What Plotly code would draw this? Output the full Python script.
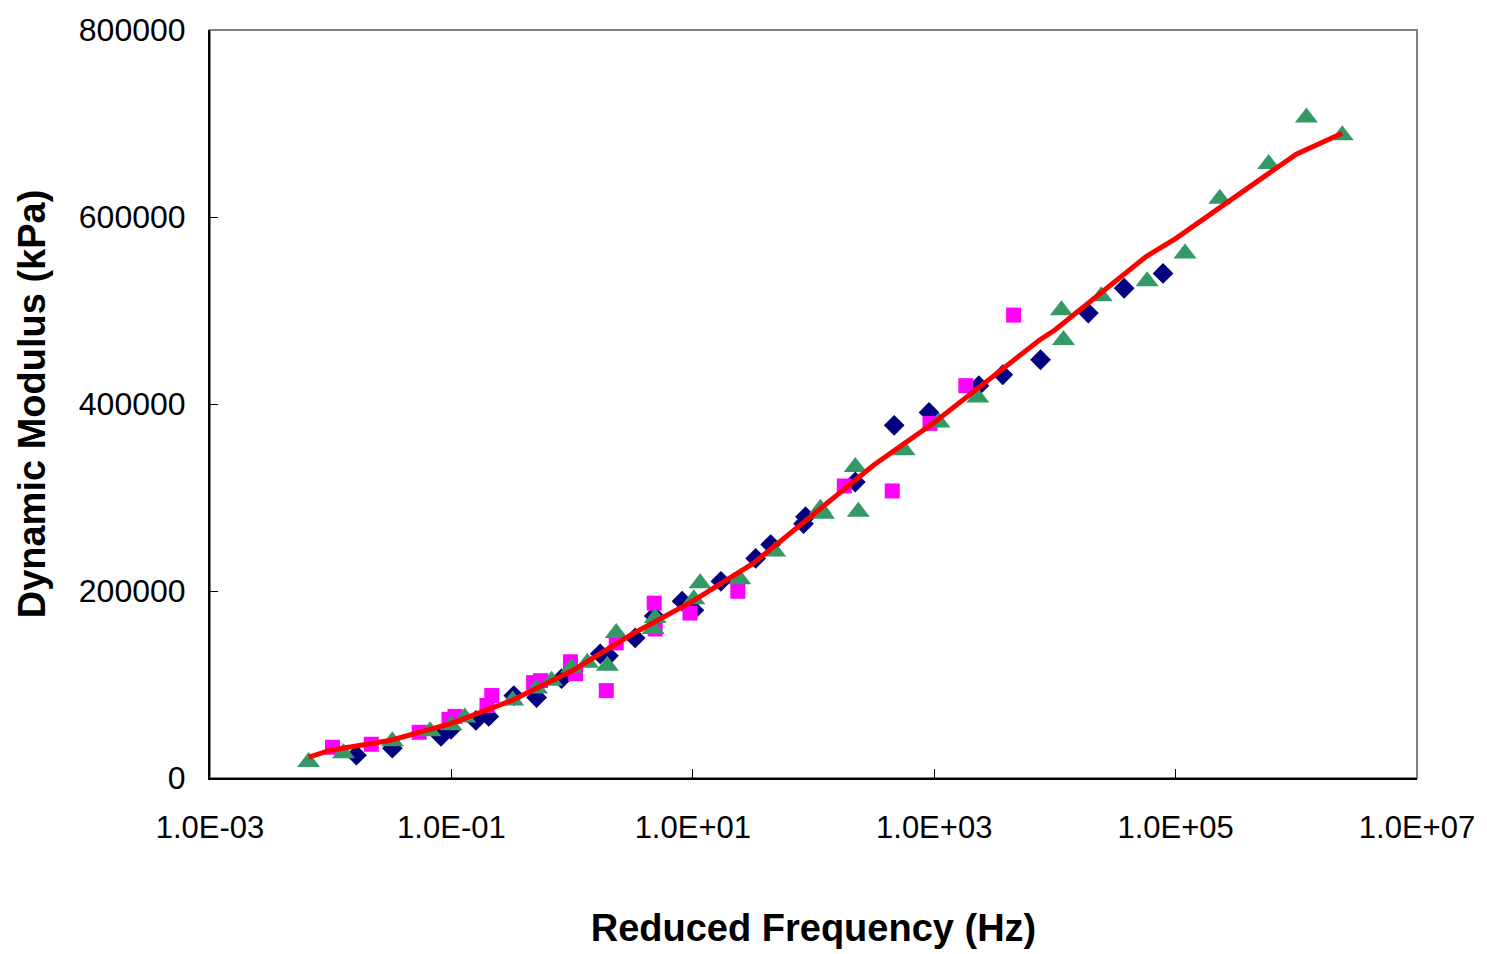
import plotly.graph_objects as go

# Reduced frequency (Hz) and dynamic modulus (kPa)
diamond_f = [0.01633, 0.0324, 0.0820, 0.0993, 0.1596, 0.204, 0.329, 0.508, 0.818,
             1.71, 2.0, 3.33, 4.79, 8.15, 10.2, 17.1, 33.2, 44.2, 85.9, 82.7,
             222, 466, 906, 2344, 3698, 7603, 18920, 37500, 78700]
diamond_e = [24400, 31900, 44600, 52100, 61600, 65900, 88200, 86100, 106200,
             132800, 130700, 149800, 173200, 189100, 179500, 210400, 234800, 249700, 279400, 272000,
             316600, 377200, 391000, 419600, 431300, 447300, 497200, 523800, 539700]

square_f = [0.01035, 0.0217, 0.0541, 0.0955, 0.107, 0.197, 0.216, 0.480, 0.548,
            0.970, 1.07, 1.92, 2.32, 4.79, 4.88, 9.48, 23.6, 180, 449, 923, 1828, 4550]
square_e = [32900, 36100, 48900, 62700, 65900, 77600, 88200, 102000, 104100,
            124300, 111600, 93500, 144500, 187000, 159400, 176400, 199700, 312300, 307000,
            379300, 419600, 495100]

triangle_f = [0.00656, 0.01277, 0.0324, 0.0665, 0.0993, 0.129, 0.322, 0.508, 0.676,
              0.989, 1.34, 1.96, 2.32, 4.88, 4.70, 10.2, 11.5, 24.5, 47.7, 114, 121,
              222, 235, 564, 1096, 2297, 11330, 11780, 24210, 58070, 119700, 232300,
              590200, 1213000, 2404000]
triangle_e = [17000, 26600, 39300, 49900, 56300, 64800, 82900, 95600, 104100,
              117900, 123200, 120100, 155100, 171000, 159400, 191200, 208200, 212500, 242200, 287900, 282600,
              332500, 284700, 350600, 380300, 406900, 500400, 468500, 515300, 531200, 561000, 619400,
              656600, 706500, 687400]

fit_f = [0.0066, 0.01, 0.0316, 0.1, 0.316, 1, 3.16, 10, 31.6, 100, 316, 1000, 3162,
         7470, 10000, 31600, 57000, 100000, 316000, 1000000, 2400000]
fit_e = [22300, 29700, 40400, 58400, 82900, 114700, 154000, 189100, 229500, 282600,
         334700, 380300, 430300, 468500, 479100, 531200, 557700, 576900, 621500, 667200, 689500]

x_tickvals = [1e-3, 1e-1, 1e1, 1e3, 1e5, 1e7]
x_ticktext = ["1.0E-03", "1.0E-01", "1.0E+01", "1.0E+03", "1.0E+05", "1.0E+07"]
y_tickvals = [0, 200000, 400000, 600000, 800000]
y_ticktext = ["0", "200000", "400000", "600000", "800000"]

FONT = "Liberation Sans, Arial, sans-serif"

fig = go.Figure()
fig.add_trace(go.Scatter(x=diamond_f, y=diamond_e, mode="markers",
                         marker=dict(symbol="diamond", size=16, color="#000080"), name="Set 1"))
fig.add_trace(go.Scatter(x=square_f, y=square_e, mode="markers",
                         marker=dict(symbol="square", size=15, color="#FF00FF"), name="Set 2"))
fig.add_trace(go.Scatter(x=triangle_f, y=triangle_e, mode="markers",
                         marker=dict(symbol="triangle-up", size=20, color="#339966"), name="Set 3"))
fig.add_trace(go.Scatter(x=fit_f, y=fit_e, mode="lines",
                         line=dict(color="#FF0000", width=5), name="Fit"))

fig.update_layout(
    width=1487, height=954,
    margin=dict(l=210, r=65, t=25, b=176),
    paper_bgcolor="white", plot_bgcolor="white",
    showlegend=False,
    font=dict(family=FONT, color="black", size=30),
    shapes=[dict(type="rect", xref="paper", yref="paper", x0=0, y0=0, x1=1, y1=1,
                 line=dict(color="#808080", width=2), layer="below")],
)
fig.update_xaxes(type="log", range=[-3, 7], tickvals=x_tickvals, ticktext=x_ticktext,
                 showgrid=False, zeroline=False, showline=True, linecolor="black", linewidth=2,
                 ticks="inside", ticklen=9, tickwidth=1, tickcolor="black",
                 tickfont=dict(size=31), ticklabelstandoff=21,
                 title=dict(text="<b>Reduced Frequency (Hz)</b>", font=dict(size=38), standoff=70))
fig.update_yaxes(range=[0, 800000], tickvals=y_tickvals, ticktext=y_ticktext,
                 showgrid=False, zeroline=False, showline=True, linecolor="black", linewidth=2,
                 ticks="inside", ticklen=8, tickwidth=1, tickcolor="black",
                 tickfont=dict(size=32), ticklabelstandoff=16,
                 title=dict(text="<b>Dynamic Modulus (kPa)</b>", font=dict(size=38), standoff=22))

fig.write_html("out.html", config={"displayModeBar": False},
               post_script=("document.body.style.margin='0';document.body.style.padding='0';"
                            "document.documentElement.style.overflow='hidden';"
                            "document.body.style.overflow='hidden';"))
